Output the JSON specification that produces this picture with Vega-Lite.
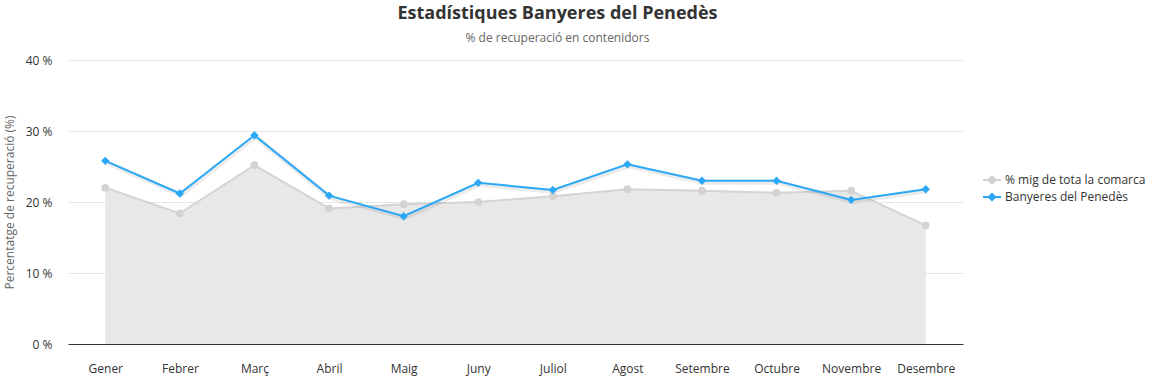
{
  "$schema": "https://vega.github.io/schema/vega-lite/v6.json",
  "width": 895,
  "height": 284,
  "autosize": {"type": "none"},
  "padding": {"left": 68, "top": 60, "right": 193, "bottom": 32},
  "background": "white",
  "title": {
    "text": "Estadístiques Banyeres del Penedès",
    "subtitle": "% de recuperació en contenidors",
    "font": "Open Sans",
    "fontSize": 18,
    "fontWeight": "bold",
    "color": "#333333",
    "subtitleFont": "Open Sans",
    "subtitleFontSize": 12,
    "subtitleColor": "#666666",
    "subtitlePadding": 10,
    "anchor": "middle",
    "dx": 42,
    "offset": 10
  },
  "config": {
    "view": {"stroke": null},
    "font": "Open Sans",
    "axis": {"labelFont": "Open Sans", "titleFont": "Open Sans"}
  },
  "data": {
    "values": [
      {"mes": "Gener", "serie": "% mig de tota la comarca", "valor": 22.0},
      {"mes": "Febrer", "serie": "% mig de tota la comarca", "valor": 18.4},
      {"mes": "Març", "serie": "% mig de tota la comarca", "valor": 25.2},
      {"mes": "Abril", "serie": "% mig de tota la comarca", "valor": 19.1},
      {"mes": "Maig", "serie": "% mig de tota la comarca", "valor": 19.7},
      {"mes": "Juny", "serie": "% mig de tota la comarca", "valor": 20.0},
      {"mes": "Juliol", "serie": "% mig de tota la comarca", "valor": 20.8},
      {"mes": "Agost", "serie": "% mig de tota la comarca", "valor": 21.8},
      {"mes": "Setembre", "serie": "% mig de tota la comarca", "valor": 21.6},
      {"mes": "Octubre", "serie": "% mig de tota la comarca", "valor": 21.3},
      {"mes": "Novembre", "serie": "% mig de tota la comarca", "valor": 21.6},
      {"mes": "Desembre", "serie": "% mig de tota la comarca", "valor": 16.7},
      {"mes": "Gener", "serie": "Banyeres del Penedès", "valor": 25.8},
      {"mes": "Febrer", "serie": "Banyeres del Penedès", "valor": 21.2},
      {"mes": "Març", "serie": "Banyeres del Penedès", "valor": 29.4},
      {"mes": "Abril", "serie": "Banyeres del Penedès", "valor": 20.9},
      {"mes": "Maig", "serie": "Banyeres del Penedès", "valor": 18.0},
      {"mes": "Juny", "serie": "Banyeres del Penedès", "valor": 22.7},
      {"mes": "Juliol", "serie": "Banyeres del Penedès", "valor": 21.7},
      {"mes": "Agost", "serie": "Banyeres del Penedès", "valor": 25.3},
      {"mes": "Setembre", "serie": "Banyeres del Penedès", "valor": 23.0},
      {"mes": "Octubre", "serie": "Banyeres del Penedès", "valor": 23.0},
      {"mes": "Novembre", "serie": "Banyeres del Penedès", "valor": 20.3},
      {"mes": "Desembre", "serie": "Banyeres del Penedès", "valor": 21.8}
    ]
  },
  "encoding": {
    "x": {
      "field": "mes",
      "type": "ordinal",
      "sort": ["Gener", "Febrer", "Març", "Abril", "Maig", "Juny", "Juliol", "Agost", "Setembre", "Octubre", "Novembre", "Desembre"],
      "scale": {"type": "point", "padding": 0.5},
      "axis": {
        "title": null,
        "labelAngle": 0,
        "labelColor": "#333333",
        "labelFontSize": 12,
        "labelPadding": 19,
        "ticks": false,
        "tickSize": 0,
        "domainColor": "#333333",
        "domainWidth": 1,
        "grid": false
      }
    },
    "y": {
      "field": "valor",
      "type": "quantitative",
      "scale": {"domain": [0, 40], "nice": false},
      "axis": {
        "title": "Percentatge de recuperació (%)",
        "titleColor": "#666666",
        "titleFontSize": 12,
        "titleFontWeight": "normal",
        "titlePadding": 9,
        "values": [0, 10, 20, 30, 40],
        "labelExpr": "datum.value + ' %'",
        "labelColor": "#333333",
        "labelFontSize": 12,
        "labelPadding": 16,
        "ticks": false,
        "tickSize": 0,
        "domain": false,
        "gridColor": "#e6e6e6",
        "gridWidth": 1
      }
    }
  },
  "layer": [
    {
      "transform": [{"filter": "datum.serie === '% mig de tota la comarca'"}],
      "mark": {"type": "area", "color": "#e8e8e8", "opacity": 1},
      "encoding": {}
    },
    {
      "transform": [{"filter": "datum.serie === '% mig de tota la comarca'"}],
      "mark": {"type": "line", "color": "#d4d4d4", "strokeWidth": 2},
      "encoding": {}
    },
    {
      "transform": [{"filter": "datum.serie === '% mig de tota la comarca'"}],
      "mark": {"type": "point", "shape": "circle", "filled": true, "color": "#d3d3d3", "opacity": 1, "size": 60},
      "encoding": {}
    },
    {
      "transform": [{"filter": "datum.serie === 'Banyeres del Penedès'"}],
      "mark": {"type": "line", "color": "#000000", "opacity": 0.08, "strokeWidth": 5, "xOffset": 1, "yOffset": 1.5},
      "encoding": {}
    },
    {
      "transform": [{"filter": "datum.serie === 'Banyeres del Penedès'"}],
      "mark": {"type": "line", "color": "#2ba8f6", "strokeWidth": 2},
      "encoding": {}
    },
    {
      "transform": [{"filter": "datum.serie === 'Banyeres del Penedès'"}],
      "mark": {"type": "point", "shape": "diamond", "filled": true, "color": "#2ba8f6", "opacity": 1, "size": 70},
      "encoding": {}
    },
    {
      "mark": {"type": "point", "filled": true, "opacity": 0, "size": 1},
      "encoding": {
        "color": {
          "field": "serie",
          "type": "nominal",
          "scale": {"domain": ["% mig de tota la comarca", "Banyeres del Penedès"], "range": ["#d3d3d3", "#2ba8f6"]},
          "legend": {
            "title": null,
            "orient": "none",
            "legendX": 915,
            "legendY": 111,
            "symbolSize": 324,
            "symbolOpacity": 1,
            "symbolStrokeWidth": 0,
            "labelFont": "Open Sans",
            "labelFontSize": 12,
            "labelColor": "#333333",
            "labelOffset": 4,
            "rowPadding": 2,
            "encode": {
              "symbols": {"update": {"opacity": {"value": 1}, "fillOpacity": {"value": 1}}}
            }
          }
        },
        "shape": {
          "field": "serie",
          "type": "nominal",
          "scale": {
            "domain": ["% mig de tota la comarca", "Banyeres del Penedès"],
            "range": [
              "M-1,-0.11H1V0.11H-1Z M0.44,0A0.44,0.44,0,1,1,-0.44,0A0.44,0.44,0,1,1,0.44,0Z",
              "M-1,-0.11H1V0.11H-1Z M0,-0.5L0.5,0L0,0.5L-0.5,0Z"
            ]
          }
        }
      }
    }
  ]
}
